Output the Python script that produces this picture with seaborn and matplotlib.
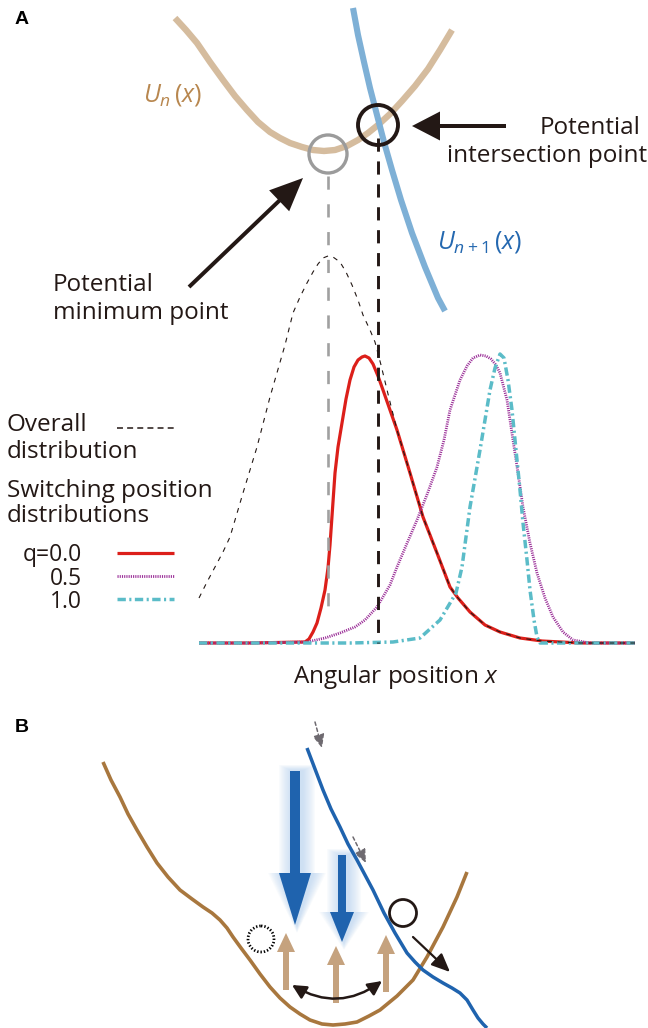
import matplotlib
matplotlib.use("Agg")
import matplotlib.pyplot as plt
import seaborn as sns
import pandas as pd
from matplotlib.patches import Circle, FancyArrow

# ---------------- data (pixel coordinates) ----------------
# Panel A potentials
un_x = [175, 186, 197, 210, 223, 235, 247, 258, 270, 280, 290, 302, 313, 324, 335, 347, 358, 368, 378, 390, 402, 415, 428, 440, 452]
un_y = [18, 30, 43, 62, 80, 96, 110, 122, 132, 138, 143, 147, 150, 151, 150, 146, 140, 133, 125, 114, 101, 86, 69, 50, 30]
un1_x = [353, 358, 364, 370, 377, 384, 392, 401, 412, 425, 438, 445]
un1_y = [8, 35, 62, 88, 115, 142, 170, 200, 233, 267, 298, 311]

# Panel A distributions
red_x = [199, 250, 305, 309, 313, 317, 321, 325, 328, 330, 335, 338, 342, 346, 350, 354, 358, 362, 365, 369, 373, 378, 383, 397, 410, 423, 437, 450, 458, 470, 485, 500, 520, 542, 580, 635]
red_y = [643, 643, 642, 639, 632, 623, 608, 590, 568, 545, 473, 447, 423, 399, 380, 367, 360, 357, 356, 358, 364, 376, 390, 430, 473, 517, 553, 587, 598, 612, 625, 632, 638, 641, 643, 643]
pur_x = [199, 250, 307, 325, 340, 355, 365, 377, 390, 397, 405, 417, 428, 437, 444, 450, 460, 467, 473, 480, 486, 491, 496, 500, 507, 513, 518, 523, 530, 537, 545, 553, 563, 573, 590, 635]
pur_y = [643, 643, 642, 638, 633, 627, 620, 607, 585, 567, 548, 520, 492, 467, 440, 410, 380, 366, 358, 355, 356, 359, 365, 373, 400, 440, 473, 507, 543, 573, 598, 617, 632, 640, 643, 643]
cya_x = [199, 300, 350, 393, 420, 440, 456, 462, 470, 480, 490, 495, 500, 504, 508, 512, 515, 520, 523, 527, 530, 534, 537, 540, 600, 635]
cya_y = [643, 643, 643, 642, 638, 620, 593, 567, 507, 450, 390, 368, 354, 358, 380, 410, 440, 490, 523, 560, 590, 620, 637, 643, 643, 643]
all_x = [199, 207, 215, 223, 230, 243, 257, 270, 285, 293, 300, 307, 313, 318, 323, 328, 333, 340, 346, 352, 358, 363, 370, 375, 381, 389, 397, 410, 423, 437, 450, 458, 470, 485, 500, 520, 542, 580, 635]
all_y = [598, 582, 567, 552, 537, 493, 447, 397, 345, 313, 297, 283, 272, 264, 258, 256, 257, 262, 272, 285, 300, 315, 330, 342, 365, 398, 430, 473, 517, 553, 587, 598, 612, 625, 632, 638, 641, 643, 643]

# Panel B potentials
bn_x = [103, 111, 120, 128, 137, 147, 157, 168, 180, 192, 203, 212, 220, 227, 233, 241, 250, 260, 270, 280, 290, 300, 310, 322, 333, 345, 357, 369, 380, 397, 413, 427, 443, 457, 467]
bn_y = [762, 780, 797, 814, 830, 847, 863, 877, 890, 899, 907, 913, 920, 928, 937, 948, 960, 974, 987, 998, 1007, 1014, 1020, 1024, 1025, 1024, 1022, 1016, 1010, 996, 980, 957, 927, 897, 872]
bb_x = [307, 315, 323, 331, 340, 348, 357, 365, 373, 384, 395, 407, 415, 423, 433, 443, 452, 460, 467, 473, 478, 483, 487]
bb_y = [748, 769, 790, 809, 827, 844, 860, 875, 890, 913, 933, 953, 962, 970, 977, 983, 988, 993, 1000, 1010, 1018, 1024, 1028]

# Legend labels
legend_q = ["q=0.0", "0.5", "1.0"]

# ---------------- styling ----------------
sns.set_theme(style="white")
plt.rcParams['font.family'] = ['Open Sans', 'DejaVu Sans']
plt.rcParams['mathtext.fontset'] = 'custom'
plt.rcParams['mathtext.rm'] = 'Open Sans'
plt.rcParams['mathtext.it'] = 'Open Sans:italic'
plt.rcParams['lines.scale_dashes'] = False
plt.rcParams['lines.solid_capstyle'] = 'butt'
plt.rcParams['lines.dash_capstyle'] = 'butt'
plt.rcParams['lines.solid_joinstyle'] = 'round'
plt.rcParams['lines.dash_joinstyle'] = 'round'

TXT = '#231815'
C_UN = '#D5BC9E'
C_UN1 = '#7EB0D6'
C_RED = '#DC1F1A'
C_PUR = '#9B2F98'
C_CYA = '#5BBCC8'
C_BN = '#A8773E'
C_BB = '#1F63AE'
C_TAN = '#C5A27E'
FS = 17.5

fig = plt.figure(figsize=(6.48, 10.28), dpi=100)
ax = fig.add_axes([0, 0, 1, 1])
ax.set_xlim(0, 648)
ax.set_ylim(1028, 0)
ax.axis('off')


def line(x, y, **kw):
    sns.lineplot(x=x, y=y, sort=False, estimator=None, ax=ax, legend=False, **kw)


# ---------------- Panel A ----------------
line(un_x, un_y, color=C_UN, lw=4.6, zorder=2)
line(un1_x, un1_y, color=C_UN1, lw=4.4, zorder=3)

# vertical guide lines
line([328, 328], [176, 607], color='#A0A0A0', lw=1.9, linestyle=(0, (9.5, 10.5)), zorder=6)
line([378, 378], [138, 643], color=TXT, lw=2.1, linestyle=(0, (9.5, 7)), zorder=7)

# distributions
line(red_x, red_y, color=C_RED, lw=2.3, zorder=4)
line(pur_x, pur_y, color=C_PUR, lw=2.0, linestyle=(0, (0.8, 0.8)), zorder=4)
line(cya_x, cya_y, color=C_CYA, lw=2.5, linestyle=(0, (6, 2.5, 1.5, 2.5)), zorder=5)
line(all_x, all_y, color=TXT, lw=0.8, linestyle=(0, (3.5, 4)), zorder=5)

# circles
ax.add_patch(Circle((328, 154), 19, fill=False, ec='#9B9B9B', lw=2.4, zorder=8))
ax.add_patch(Circle((378, 125), 20, fill=False, ec=TXT, lw=2.8, zorder=8))

# arrows A
ax.add_patch(FancyArrow(506, 126, -94, 0, width=4, head_width=29, head_length=28,
                        length_includes_head=True, color=TXT, lw=0, zorder=8))
ax.add_patch(FancyArrow(189, 287, 114, -109, width=4, head_width=29, head_length=33,
                        length_includes_head=True, color=TXT, lw=0, zorder=8))

# text A
ax.text(22, 20, 'A', fontsize=14, fontweight='bold', family=['Liberation Sans', 'DejaVu Sans'],
        ha='center', va='center', color='black')
ax.text(173, 95, r'$U_n\,(x)$', fontsize=18, color='#B8874F', ha='center', va='center')
ax.text(480, 242, r'$U_{n+1}\,(x)$', fontsize=18, color='#2468B0', ha='center', va='center')
ax.text(641, 128, 'Potential', fontsize=FS, color=TXT, ha='right', va='center')
ax.text(647, 156, 'intersection point', fontsize=FS, color=TXT, ha='right', va='center')
ax.text(53, 285, 'Potential', fontsize=FS, color=TXT, ha='left', va='center')
ax.text(53, 313, 'minimum point', fontsize=FS, color=TXT, ha='left', va='center')

# legend
ax.text(7, 425, 'Overall', fontsize=FS, color=TXT, ha='left', va='center')
ax.text(7, 452, 'distribution', fontsize=FS, color=TXT, ha='left', va='center')
ax.text(7, 491, 'Switching position', fontsize=FS, color=TXT, ha='left', va='center')
ax.text(7, 516, 'distributions', fontsize=FS, color=TXT, ha='left', va='center')
for lab, yy in zip(legend_q, [555, 579, 602]):
    ax.text(82, yy, lab, fontsize=16.5, color=TXT, ha='right', va='center')
line([117, 174], [428, 428], color=TXT, lw=1.1, linestyle=(0, (4.3, 3)))
line([117, 174], [553, 553], color=C_RED, lw=2.3)
line([117, 174], [576, 576], color=C_PUR, lw=2.0, linestyle=(0, (0.8, 0.8)))
line([117, 174], [599, 599], color=C_CYA, lw=2.5, linestyle=(0, (6, 2.5, 1.5, 2.5)))

ax.text(396, 677, r'Angular position $x$', fontsize=FS, color=TXT, ha='center', va='center')

# ---------------- Panel B ----------------
ax.text(22, 727, 'B', fontsize=14, fontweight='bold', family=['Liberation Sans', 'DejaVu Sans'],
        ha='center', va='center', color='black')

line(bn_x, bn_y, color=C_BN, lw=2.6, zorder=2)
line(bb_x, bb_y, color=C_BB, lw=2.5, zorder=3)


def glow_arrow(x, y0, y1, w, hw, hl):
    for k in range(10, 0, -1):
        ax.add_patch(FancyArrow(x + 2, y0 - k * 0.6, 0, (y1 - y0) + 1.4 * k, width=w + 2.6 * k,
                                head_width=hw + 2.6 * k, head_length=hl + 0.8 * k,
                                length_includes_head=True, color='#9CC3EA', alpha=0.06, lw=0, zorder=2))
    ax.add_patch(FancyArrow(x, y0, 0, y1 - y0, width=w, head_width=hw, head_length=hl,
                            length_includes_head=True, color=C_BB, lw=0, zorder=4))


glow_arrow(295, 771, 925, 10, 32, 52)
glow_arrow(342, 855, 942, 8, 24, 30)

for tx, tb, tt in [(286, 990, 933), (336, 1003, 946), (386, 992, 935)]:
    ax.add_patch(FancyArrow(tx, tb, 0, tt - tb, width=6, head_width=18, head_length=19,
                            length_includes_head=True, color=C_TAN, lw=0, zorder=4))

ax.annotate('', xy=(382, 981), xytext=(292, 985),
            arrowprops=dict(arrowstyle='<|-|>,head_length=0.7,head_width=0.35',
                            connectionstyle='arc3,rad=0.33', color=TXT, lw=1.8,
                            shrinkA=0, shrinkB=0, mutation_scale=12), zorder=6)
ax.annotate('', xy=(450, 972), xytext=(413, 937),
            arrowprops=dict(arrowstyle='-|>,head_length=0.8,head_width=0.35', color=TXT, lw=1.6,
                            shrinkA=0, shrinkB=0, mutation_scale=14), zorder=6)
for (xa, ya), (xb, yb) in [((315, 722), (322, 748)), ((353, 837), (366, 863))]:
    ax.annotate('', xy=(xb, yb), xytext=(xa, ya),
                arrowprops=dict(arrowstyle='-|>,head_length=0.8,head_width=0.35', color='#6E6A70',
                                lw=1.1, linestyle=(0, (2.5, 2)), shrinkA=0, shrinkB=0,
                                mutation_scale=10), zorder=6)

ax.add_patch(Circle((261, 939), 13, fill=False, ec='black', lw=2.0, ls=(0, (1, 1.4)), zorder=6))
ax.add_patch(Circle((403, 913), 13.5, fill=False, ec=TXT, lw=2.0, zorder=6))

fig.savefig('out.png', dpi=100)
